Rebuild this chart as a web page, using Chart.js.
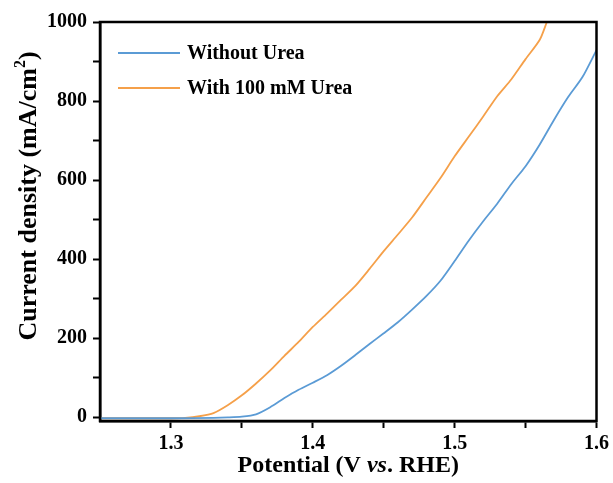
<!DOCTYPE html>
<html>
<head>
<meta charset="utf-8">
<script src="https://cdn.jsdelivr.net/npm/chart.js@4"></script>
<style>
  html, body { margin: 0; padding: 0; background: #fff; }
  #wrap { width: 613px; height: 483px; }
</style>
</head>
<body>
<div id="wrap"><canvas id="lsvChart" width="613" height="483"></canvas></div>
<script>
// LSV data, potential (V vs. RHE) and current density (mA/cm2)
const potentialNoUrea = [1.25, 1.30, 1.33, 1.34, 1.35, 1.36, 1.37, 1.38, 1.39, 1.40, 1.41, 1.42, 1.43, 1.44, 1.45, 1.46, 1.47, 1.48, 1.49, 1.50, 1.51, 1.52, 1.53, 1.54, 1.55, 1.56, 1.57, 1.58, 1.59, 1.60];
const currentNoUrea = [-3, -3, -2, -1, 1, 7, 25, 48, 69, 87, 106, 130, 157, 185, 212, 240, 272, 306, 345, 395, 447, 495, 540, 590, 635, 690, 752, 810, 860, 929];

const potentialUrea = [1.25, 1.30, 1.31, 1.32, 1.33, 1.34, 1.35, 1.36, 1.37, 1.38, 1.39, 1.40, 1.41, 1.42, 1.43, 1.44, 1.45, 1.46, 1.47, 1.48, 1.49, 1.50, 1.51, 1.52, 1.53, 1.54, 1.55, 1.56, 1.565];
const currentUrea = [-3, -3, -2, 2, 10, 30, 55, 85, 118, 155, 190, 228, 262, 297, 332, 375, 420, 462, 505, 555, 605, 660, 710, 760, 812, 855, 906, 955, 1000];

const seriesLabels = ["Without Urea", "With 100 mM Urea"];
const seriesColors = ["#5b9bd5", "#f5a04a"];

const xTicks = [1.3, 1.35, 1.4, 1.45, 1.5, 1.55, 1.6];
const yTicks = [0, 100, 200, 300, 400, 500, 600, 700, 800, 900, 1000];

const FONT = "'Liberation Serif', 'Times New Roman', serif";

function toPoints(xs, ys) {
    return xs.map((x, i) => ({ x: x, y: ys[i] }));
}

// box, axis titles and legend drawn by hand
const decorPlugin = {
    id: "decor",
    afterDraw(chart) {
        const ctx = chart.ctx;
        const a = chart.chartArea;
        ctx.save();

        // frame
        ctx.strokeStyle = "#000";
        ctx.lineWidth = 2.5;
        ctx.strokeRect(a.left, a.top, a.right - a.left, a.bottom - a.top);

        ctx.fillStyle = "#000";
        ctx.textBaseline = "alphabetic";

        // x title with italic "vs."
        const parts = [
            ["Potential (V ", "bold 24px " + FONT],
            ["vs", "italic bold 24px " + FONT],
            [". RHE)", "bold 24px " + FONT]
        ];
        let total = 0;
        parts.forEach(p => { ctx.font = p[1]; total += ctx.measureText(p[0]).width; });
        let x = (a.left + a.right) / 2 - total / 2;
        parts.forEach(p => {
            ctx.font = p[1];
            ctx.fillText(p[0], x, 472);
            x += ctx.measureText(p[0]).width;
        });

        // y title with superscript
        ctx.translate(36, 196);
        ctx.rotate(-Math.PI / 2);
        const main = "Current density (mA/cm";
        ctx.font = "bold 26px " + FONT;
        const w1 = ctx.measureText(main).width;
        ctx.font = "bold 16px " + FONT;
        const w2 = ctx.measureText("2").width;
        ctx.font = "bold 26px " + FONT;
        const w3 = ctx.measureText(")").width;
        let sx = -(w1 + w2 + w3) / 2;
        ctx.fillText(main, sx, 0);
        sx += w1;
        ctx.font = "bold 16px " + FONT;
        ctx.fillText("2", sx, -11);
        sx += w2;
        ctx.font = "bold 26px " + FONT;
        ctx.fillText(")", sx, 0);
        ctx.setTransform(1, 0, 0, 1, 0, 0);

        // legend
        const rows = [53, 88];
        ctx.textBaseline = "middle";
        ctx.font = "bold 20px " + FONT;
        chart.data.datasets.forEach((ds, i) => {
            ctx.strokeStyle = ds.borderColor;
            ctx.lineWidth = 2;
            ctx.beginPath();
            ctx.moveTo(118, rows[i]);
            ctx.lineTo(180, rows[i]);
            ctx.stroke();
            ctx.fillStyle = "#000";
            ctx.fillText(ds.label, 187, rows[i] + 1);
        });

        ctx.restore();
    }
};

const ctx = document.getElementById("lsvChart").getContext("2d");

new Chart(ctx, {
    type: "line",
    data: {
        datasets: [
            {
                label: seriesLabels[0],
                data: toPoints(potentialNoUrea, currentNoUrea),
                borderColor: seriesColors[0],
                borderWidth: 1.8,
                pointRadius: 0,
                tension: 0.25,
                fill: false
            },
            {
                label: seriesLabels[1],
                data: toPoints(potentialUrea, currentUrea),
                borderColor: seriesColors[1],
                borderWidth: 1.8,
                pointRadius: 0,
                tension: 0.25,
                fill: false
            }
        ]
    },
    options: {
        responsive: false,
        animation: false,
        layout: {
            padding: { left: 0, right: 16, top: 22, bottom: 0 }
        },
        scales: {
            x: {
                type: "linear",
                min: 1.25,
                max: 1.6,
                afterBuildTicks: scale => { scale.ticks = xTicks.map(v => ({ value: v })); },
                afterFit: scale => { scale.height = 62; },
                grid: {
                    drawOnChartArea: false,
                    drawTicks: true,
                    tickLength: 7,
                    tickWidth: 2,
                    tickColor: "#000"
                },
                border: { color: "#000", width: 2.5 },
                ticks: {
                    color: "#000",
                    padding: 4,
                    maxRotation: 0,
                    autoSkip: false,
                    font: { family: FONT, size: 20, weight: "bold" },
                    callback: function (value) {
                        const v = Math.round(value * 100);
                        return v % 10 === 0 ? (v / 100).toFixed(1) : "";
                    }
                }
            },
            y: {
                type: "linear",
                min: -10,
                max: 1000,
                afterBuildTicks: scale => { scale.ticks = yTicks.map(v => ({ value: v })); },
                afterFit: scale => { scale.width = 100; },
                grid: {
                    drawOnChartArea: false,
                    drawTicks: true,
                    tickLength: 7,
                    tickWidth: 2,
                    tickColor: "#000"
                },
                border: { color: "#000", width: 2.5 },
                ticks: {
                    color: "#000",
                    padding: 6,
                    autoSkip: false,
                    font: { family: FONT, size: 20, weight: "bold" },
                    callback: function (value) {
                        return value % 200 === 0 ? value : "";
                    }
                }
            }
        },
        plugins: {
            legend: { display: false },
            tooltip: { enabled: false }
        }
    },
    plugins: [decorPlugin]
});
</script>
</body>
</html>
